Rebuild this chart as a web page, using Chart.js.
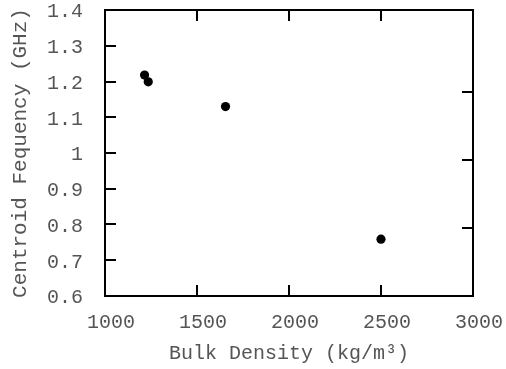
<!DOCTYPE html>
<html>
<head>
<meta charset="utf-8">
<script src="https://cdn.jsdelivr.net/npm/chart.js@4/dist/chart.umd.min.js"></script>
<style>
html,body{margin:0;padding:0;background:#fff;}
#wrap{width:506px;height:369px;}
</style>
</head>
<body>
<div id="wrap"><canvas id="c" width="506" height="369"></canvas></div>
<script>
// ---- data ----
const X_VALUES = [1215, 1235, 1655, 2500];
const Y_VALUES = [1.218, 1.199, 1.130, 0.759];
const X_TICKS = [1000, 1500, 2000, 2500, 3000];
const Y_TICKS = [0.6, 0.7, 0.8, 0.9, 1.0, 1.1, 1.2, 1.3, 1.4];
const RIGHT_TICKS = [1, 2, 3];
const X_TITLE = 'Bulk Density (kg/m³)';
const Y_TITLE = 'Centroid Fequency (GHz)';

const FONT = 'Liberation Mono, Courier New, monospace';
const TXT = '#555';

const points = X_VALUES.map((x, i) => ({x: x, y: Y_VALUES[i]}));

const frameTicks = {
  id: 'frameTicks',
  afterDatasetsDraw(chart) {
    const {ctx, chartArea: {left, right, top, bottom}, scales} = chart;
    const L = 11;
    ctx.save();
    ctx.strokeStyle = '#000';
    ctx.lineWidth = 2;
    ctx.beginPath();
    const inner = (s, v) => v > s.min && v < s.max;
    scales.y.ticks.forEach(t => { if (!inner(scales.y, t.value)) return; const p = Math.round(scales.y.getPixelForValue(t.value)); ctx.moveTo(left, p); ctx.lineTo(left + L, p); });
    scales.y2.ticks.forEach(t => { if (!inner(scales.y2, t.value)) return; const p = Math.round(scales.y2.getPixelForValue(t.value)); ctx.moveTo(right, p); ctx.lineTo(right - L, p); });
    scales.x.ticks.forEach(t => { if (!inner(scales.x, t.value)) return; const p = Math.round(scales.x.getPixelForValue(t.value)); ctx.moveTo(p, bottom); ctx.lineTo(p, bottom - L); });
    scales.x2.ticks.forEach(t => { if (!inner(scales.x2, t.value)) return; const p = Math.round(scales.x2.getPixelForValue(t.value)); ctx.moveTo(p, top); ctx.lineTo(p, top + L); });
    ctx.stroke();
    ctx.strokeRect(left, top, right - left, bottom - top);
    ctx.restore();
  }
};

const noPad = s => { s.paddingLeft = 0; s.paddingRight = 0; s.paddingTop = 0; s.paddingBottom = 0; };

new Chart(document.getElementById('c'), {
  type: 'scatter',
  data: {
    datasets: [{
      data: points,
      backgroundColor: '#000',
      borderWidth: 0,
      pointRadius: 4.6,
      pointHoverRadius: 4.6,
      xAxisID: 'x',
      yAxisID: 'y'
    }]
  },
  options: {
    responsive: false,
    animation: false,
    devicePixelRatio: 1,
    layout: {padding: 0},
    plugins: {legend: {display: false}, tooltip: {enabled: false}},
    scales: {
      x: {
        type: 'linear', position: 'bottom', min: 1000, max: 3000,
        afterBuildTicks: s => { s.ticks = X_TICKS.map(v => ({value: v})); },
        ticks: {font: {family: FONT, size: 20}, color: TXT, padding: 7, labelOffset: 6, maxRotation: 0,
                callback: v => String(v)},
        grid: {display: false}, border: {display: false},
        title: {display: true, text: X_TITLE, font: {family: FONT, size: 20}, color: TXT, padding: {top: 0, bottom: 3}},
        afterFit: s => { s.height = 73; noPad(s); }
      },
      x2: {
        type: 'linear', position: 'top', min: 1000, max: 3000,
        afterBuildTicks: s => { s.ticks = X_TICKS.map(v => ({value: v})); },
        ticks: {display: false}, grid: {display: false}, border: {display: false},
        afterFit: s => { s.height = 10; noPad(s); }
      },
      y: {
        type: 'linear', position: 'left', min: 0.6, max: 1.4,
        afterBuildTicks: s => { s.ticks = Y_TICKS.map(v => ({value: v})); },
        ticks: {font: {family: FONT, size: 20}, color: TXT, padding: 14, labelOffset: 2,
                callback: v => String(+Number(v).toFixed(1))},
        grid: {display: false}, border: {display: false},
        title: {display: true, text: Y_TITLE, font: {family: FONT, size: 21}, color: TXT, padding: {top: 8, bottom: 0}},
        afterFit: s => { s.width = 105; noPad(s); }
      },
      y2: {
        type: 'linear', position: 'right', min: 0, max: 4.2,
        afterBuildTicks: s => { s.ticks = RIGHT_TICKS.map(v => ({value: v})); },
        ticks: {display: false}, grid: {display: false}, border: {display: false},
        afterFit: s => { s.width = 33; noPad(s); }
      }
    }
  },
  plugins: [frameTicks]
});
</script>
</body>
</html>
